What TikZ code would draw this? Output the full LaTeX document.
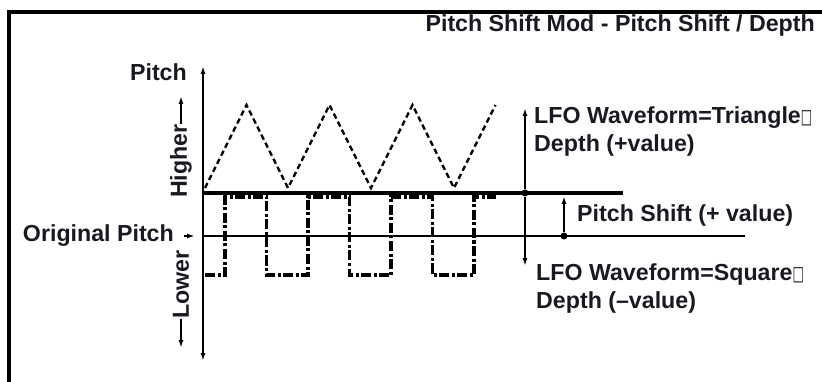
\documentclass[tikz,border=0pt]{standalone}
\usepackage{fontspec}
\usepackage{graphicx}
\setmainfont{Liberation Sans}
\newfontfamily\boxglyph{DejaVu Sans}
\usetikzlibrary{arrows.meta, positioning}
\definecolor{inkdark}{rgb}{0.1, 0.1, 0.13}
\newcommand{\gapbox}{\scalebox{0.6}[1]{\boxglyph\fontsize{20}{28}\selectfont □}}

\begin{document}
\begin{tikzpicture}[x=1pt, y=-1pt,
		lbl/.style={font=\fontsize{23.2}{28}\selectfont\bfseries, text=inkdark, inner sep=0pt, align=left},
		tip/.style={-{Latex[length=8pt, width=5pt]}, line width=1.6pt},
		twotip/.style={{Latex[length=8pt, width=5pt]}-{Latex[length=8pt, width=5pt]}, line width=1.7pt},
		triwave/.style={dash pattern=on 5.5pt off 3.5pt, line width=2.3pt},
		sqwave/.style={dash pattern=on 10pt off 2.5pt on 3pt off 2.5pt, line width=3.2pt},
		dot/.style={circle, fill=black, inner sep=0pt, minimum size=7pt}
	]
	\useasboundingbox (0,0) rectangle (822,382);
	% frame
	\draw[line width=4pt] (9,382) -- (9,12) -- (822,12);
	\node[lbl, anchor=base east] (title) at (815,32) {Pitch Shift Mod - Pitch Shift / Depth};
	
	% axis and its labels
	\coordinate (axtop) at (203,66);
	\coordinate (axbot) at (203,361);
	\draw[twotip] (axbot) -- (axtop);
	\node[lbl, anchor=base east] (pitch) at (187,81) {Pitch};
	\node[lbl, rotate=90, anchor=west] (higher) at (181,198) {Higher};
	\coordinate (hightip) at (183,96);
	\draw[tip] (higher.east) -- (higher.east |- hightip);
	\node[lbl, rotate=90, anchor=east] (lower) at (181,250) {Lower};
	\coordinate (lowtip) at (183,348);
	\draw[tip] (lower.west) -- (lower.west |- lowtip);
	\node[lbl, anchor=base east] (orig) at (174,242) {Original Pitch};
	\coordinate (origtail) at (184,236);
	\coordinate (origtip) at (195,236);
	\draw[tip] (origtail) -- (origtip);
	
	% original and shifted pitch
	\coordinate (base0) at (203,236);
	\coordinate (base1) at (745,236);
	\draw[line width=1.6pt] (base0) -- (base1);
	\coordinate (shift0) at (203,193);
	\coordinate (shift1) at (623,193);
	\draw[line width=3.6pt] (shift0) -- (shift1);
	
	% waveforms
	\draw[triwave] (205,188) \foreach \k in {0,1,2} {-- ({246.5+83*\k},105) -- ({288+83*\k},188)} -- (495.5,105);
	\draw[sqwave] (205,275) \foreach \k in {0,1,2} {-- ({225+83*\k},275) -- ({225+83*\k},197) -- ({266.5+83*\k},197) -- ({266.5+83*\k},275)} -- (474,275) -- (474,197) -- (496,197);
	
	% depth and shift markers
	\node[dot] (depthpt) at (525,193) {};
	\node[dot] (shiftpt) at (564,236) {};
	\coordinate (depthup) at (525,108);
	\coordinate (depthdn) at (525,266);
	\draw[tip] (depthpt) -- (depthup);
	\draw[tip] (depthpt) -- (depthdn);
	\coordinate (shiftup) at (564,196);
	\draw[tip] (shiftpt) -- (shiftup);
	
	\node[lbl, anchor=base west] (tritxt) at (534,152) {LFO Waveform=Triangle\gapbox\\Depth (+value)};
	\node[lbl, anchor=base west] (shifttxt) at (577,222) {Pitch Shift (+ value)};
	\node[lbl, anchor=base west] (sqtxt) at (536,308) {LFO Waveform=Square\gapbox\\Depth (–value)};
\end{tikzpicture}
\end{document}
